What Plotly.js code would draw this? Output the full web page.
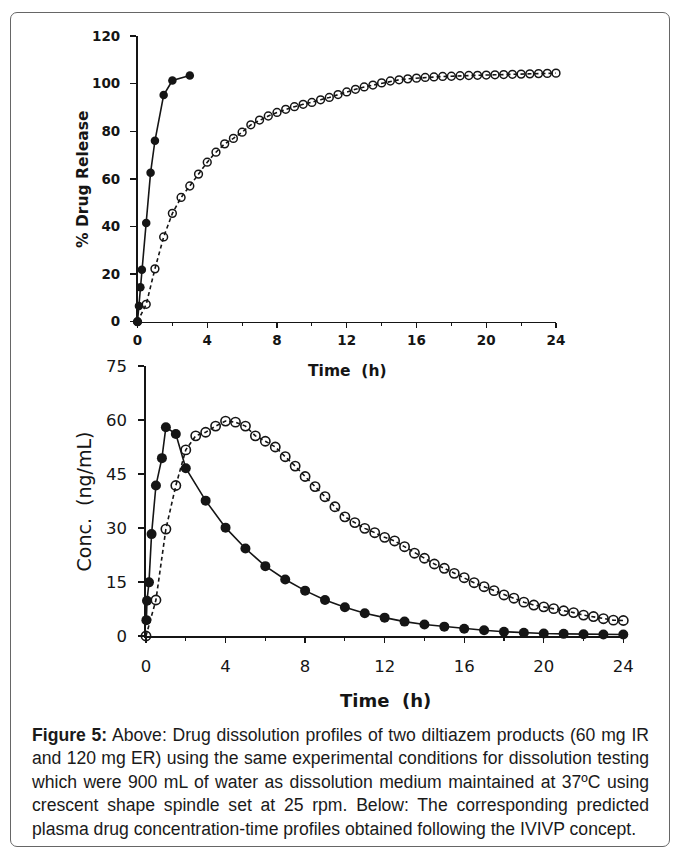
<!DOCTYPE html>
<html>
<head>
<meta charset="utf-8">
<script src="https://cdn.plot.ly/plotly-3.0.1.min.js"></script>
<style>
  html, body { margin: 0; padding: 0; background: #fff; }
  #wrap { position: relative; width: 676px; height: 848px; overflow: hidden; }
  #chart { position: absolute; left: 0; top: 0; width: 676px; height: 848px; }
  #frame { position: absolute; left: 10px; top: 12px; width: 658px; height: 833px;
           border: 1px solid #666; border-radius: 7px; pointer-events: none; }
  #caption { position: absolute; left: 32px; top: 724px; width: 617px;
             font-family: "Liberation Sans", Arial, sans-serif;
             font-size: 17.6px; color: #1a1a1a; }
  #caption .ln { height: 23.4px; line-height: 23.4px; white-space: nowrap;
                 text-align: justify; text-align-last: justify; }
  #caption .ln.last { text-align-last: left; }
</style>
</head>
<body>
<div id="wrap">
  <div id="chart"></div>
  <div id="frame"></div>
  <div id="caption">
    <div class="ln"><b>Figure 5:</b> Above: Drug dissolution profiles of two diltiazem products (60 mg IR</div>
    <div class="ln">and 120 mg ER) using the same experimental conditions for dissolution testing</div>
    <div class="ln">which were 900 mL of water as dissolution medium maintained at 37ºC using</div>
    <div class="ln">crescent shape spindle set at 25 rpm. Below: The corresponding predicted</div>
    <div class="ln last">plasma drug concentration-time profiles obtained following the IVIVP concept.</div>
  </div>
</div>
<script>
// ---------- Data ----------
// Upper panel: % drug release (dissolution)
const timeIRTop = [0, 0.083, 0.167, 0.25, 0.5, 0.75, 1, 1.5, 2, 3];
const releaseIR = [0, 6.6, 14.5, 21.8, 41.5, 62.6, 76.0, 95.2, 101.3, 103.4];

const timeER = [0, 0.5, 1, 1.5, 2, 2.5, 3, 3.5, 4, 4.5, 5, 5.5, 6, 6.5, 7, 7.5, 8, 8.5, 9, 9.5,
  10, 10.5, 11, 11.5, 12, 12.5, 13, 13.5, 14, 14.5, 15, 15.5, 16, 16.5, 17, 17.5, 18, 18.5, 19, 19.5,
  20, 20.5, 21, 21.5, 22, 22.5, 23, 23.5, 24];
const releaseER = [0, 7.3, 22.2, 35.6, 45.5, 52.2, 57.0, 62.0, 67.0, 71.2, 74.7, 77.0, 79.6, 82.7, 84.7, 86.4,
  87.9, 89.2, 90.3, 91.3, 92.1, 93.2, 94.2, 95.4, 96.5, 97.6, 98.6, 99.4, 100.3, 101.1, 101.6, 102.0,
  102.3, 102.6, 102.8, 103.0, 103.1, 103.3, 103.4, 103.5, 103.6, 103.7, 103.8, 103.9, 104.0, 104.1,
  104.2, 104.3, 104.4];

// Lower panel: predicted plasma concentration (ng/mL)
const timeIRBot = [0.02, 0.05, 0.15, 0.28, 0.5, 0.8, 1, 1.5, 2, 3, 4, 5, 6, 7, 8, 9, 10, 11, 12,
  13, 14, 15, 16, 17, 18, 19, 20, 21, 22, 23, 24];
const concIR = [4.4, 9.8, 14.9, 28.3, 41.8, 49.4, 58.0, 56.1, 46.6, 37.6, 30.1, 24.3, 19.4, 15.7, 12.6,
  10.0, 8.0, 6.3, 5.1, 4.0, 3.2, 2.6, 2.0, 1.6, 1.2, 0.9, 0.7, 0.6, 0.5, 0.4, 0.4];

const concER = [0, 10.0, 29.7, 41.8, 51.7, 55.6, 56.6, 58.3, 59.7, 59.4, 58.3, 55.6, 54.1, 52.5, 49.8,
  47.2, 44.3, 41.5, 38.7, 35.9, 33.1, 31.5, 29.9, 28.7, 27.4, 26.4, 24.8, 23.0, 21.6, 20.0, 18.8,
  17.4, 16.2, 14.8, 13.7, 12.6, 11.4, 10.5, 9.4, 8.6, 8.1, 7.6, 7.0, 6.5, 5.8, 5.4, 4.8, 4.4, 4.3];

const xTickVals = [0, 4, 8, 12, 16, 20, 24];
const yTopTicks = [0, 20, 40, 60, 80, 100, 120];
const yBotTicks = [0, 15, 30, 45, 60, 75];

// ---------- Styling ----------
const INK = '#151515';
const W = 676, H = 848;
const px = (a, b) => [a / W, b / W];
const py = (top, bottom) => [1 - bottom / H, 1 - top / H];

const traces = [
  { x: timeER, y: releaseER, xaxis: 'x', yaxis: 'y', mode: 'lines+markers', name: 'ER',
    line: { color: INK, width: 1.6, dash: '4px,3px' },
    marker: { symbol: 'circle', size: 7.8, color: 'rgba(0,0,0,0)', line: { color: INK, width: 1.5 } },
    cliponaxis: false },
  { x: timeIRTop, y: releaseIR, xaxis: 'x', yaxis: 'y', mode: 'lines+markers', name: 'IR',
    line: { color: INK, width: 1.6 },
    marker: { symbol: 'circle', size: 8.5, color: INK },
    cliponaxis: false },
  { x: timeIRBot, y: concIR, xaxis: 'x2', yaxis: 'y2', mode: 'lines+markers', name: 'IR',
    line: { color: INK, width: 1.6 },
    marker: { symbol: 'circle', size: 10, color: INK },
    cliponaxis: false },
  { x: timeER, y: concER, xaxis: 'x2', yaxis: 'y2', mode: 'lines+markers', name: 'ER',
    line: { color: INK, width: 1.6, dash: '4px,3px' },
    marker: { symbol: 'circle', size: 9.3, color: 'rgba(0,0,0,0)', line: { color: INK, width: 1.6 } },
    cliponaxis: false }
];

const topTickFont = { family: 'DejaVu Sans', size: 13.5, color: INK, weight: 'bold' };
const botTickFont = { family: 'DejaVu Sans', size: 16.5, color: INK };

const layout = {
  width: W, height: H,
  margin: { l: 0, r: 0, t: 0, b: 0 },
  paper_bgcolor: '#fff', plot_bgcolor: 'rgba(0,0,0,0)',
  showlegend: false,
  xaxis: {
    domain: px(137.5, 556), anchor: 'y', range: [0, 24], showgrid: false, zeroline: false,
    showline: true, linecolor: INK, linewidth: 1.6,
    tickmode: 'array', tickvals: xTickVals, ticks: 'outside', ticklen: 5, tickwidth: 1.4, tickcolor: INK,
    minor: { dtick: 2, tick0: 0, ticks: 'outside', ticklen: 3, tickwidth: 1.2, tickcolor: INK, showgrid: false },
    tickfont: topTickFont, ticklabelstandoff: 0, automargin: false, fixedrange: true
  },
  yaxis: {
    domain: py(36, 321.7), anchor: 'x', range: [0, 120], showgrid: false, zeroline: false,
    showline: true, linecolor: INK, linewidth: 1.6,
    tickmode: 'array', tickvals: yTopTicks, ticks: 'outside', ticklen: 6, tickwidth: 1.4, tickcolor: INK,
    tickfont: topTickFont, ticklabelstandoff: 7, automargin: false, fixedrange: true
  },
  xaxis2: {
    domain: px(146, 623.3), anchor: 'y2', range: [0, 24], showgrid: false, zeroline: false,
    showline: true, linecolor: INK, linewidth: 1.6,
    tickmode: 'array', tickvals: xTickVals, ticks: 'outside', ticklen: 5, tickwidth: 1.4, tickcolor: INK,
    minor: { dtick: 2, tick0: 0, ticks: 'outside', ticklen: 3, tickwidth: 1.2, tickcolor: INK, showgrid: false },
    tickfont: botTickFont, ticklabelstandoff: 10, automargin: false, fixedrange: true
  },
  yaxis2: {
    domain: py(366, 636), anchor: 'x2', range: [0, 75], showgrid: false, zeroline: false,
    showline: true, linecolor: INK, linewidth: 1.6,
    tickmode: 'array', tickvals: yBotTicks, ticks: 'outside', ticklen: 6, tickwidth: 1.4, tickcolor: INK,
    tickfont: botTickFont, ticklabelstandoff: 8, automargin: false, fixedrange: true
  },
  annotations: [
    { text: 'Time\u00a0 (h)', xref: 'paper', yref: 'paper', x: 347 / W, y: 1 - 371 / H,
      xanchor: 'center', yanchor: 'middle', showarrow: false,
      font: { family: 'DejaVu Sans', size: 15.5, color: INK, weight: 'bold' } },
    { text: '% Drug Release', xref: 'paper', yref: 'paper', x: 83 / W, y: 1 - 180 / H,
      xanchor: 'center', yanchor: 'middle', showarrow: false, textangle: -90,
      font: { family: 'DejaVu Sans', size: 15.5, color: INK, weight: 'bold' } },
    { text: 'Time\u00a0 (h)', xref: 'paper', yref: 'paper', x: 385 / W, y: 1 - 700 / H,
      xanchor: 'center', yanchor: 'middle', showarrow: false,
      font: { family: 'DejaVu Sans', size: 18, color: INK, weight: 'bold' } },
    { text: 'Conc.\u00a0 (ng/mL)', xref: 'paper', yref: 'paper', x: 83 / W, y: 1 - 501.5 / H,
      xanchor: 'center', yanchor: 'middle', showarrow: false, textangle: -90,
      font: { family: 'DejaVu Sans', size: 19, color: INK } }
  ]
};

Plotly.newPlot('chart', traces, layout, { staticPlot: true, displayModeBar: false });
</script>
</body>
</html>
